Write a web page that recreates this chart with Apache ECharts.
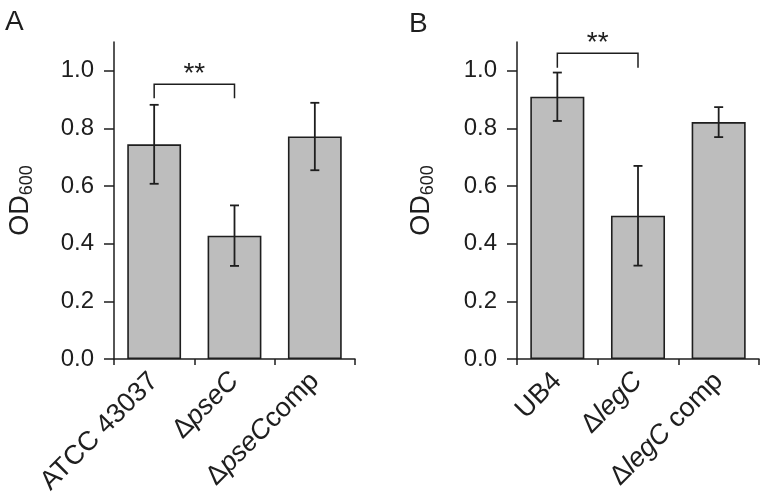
<!DOCTYPE html>
<html>
<head>
<meta charset="utf-8">
<script src="https://cdn.jsdelivr.net/npm/echarts@6/dist/echarts.min.js"></script>
<style>html,body{margin:0;padding:0;background:#fff}#c{width:760px;height:499px}</style>
</head>
<body>
<div id="c"></div>
<script>
// ---- data ----
var categoriesA = ["ATCC 43037", "ΔpseC", "ΔpseCcomp"];
var meansA = [0.745, 0.428, 0.772];
var errorsA = [0.137, 0.105, 0.117];
var categoriesB = ["UB4", "ΔlegC", "ΔlegC comp"];
var meansB = [0.910, 0.497, 0.822];
var errorsB = [0.084, 0.173, 0.052];
var yTicks = [0, 0.2, 0.4, 0.6, 0.8, 1.0];
var yMax = 1.1;
// significance brackets: [fromIndex, toIndex, barValue, endValue, label]
var bracketA = [0, 1, 0.953, 0.905, "**"];
var bracketB = [0, 1, 1.061, 1.011, "**"];
var panelLabels = ["A", "B"];

var FONT = "Liberation Sans, Arial, sans-serif";
var INK = "#1e1e1e";

function fmtCat(v) {
  var s = v.replace(/(pseC|legC)/, "}{i|$1}{n|");
  return "{n|" + s + "}";
}
var catRich = {
  n: { fontFamily: FONT, fontSize: 27, color: INK },
  i: { fontFamily: FONT, fontSize: 27, color: INK, fontStyle: "italic" }
};

function makeX(idx, cats) {
  return {
    type: "category", gridIndex: idx, data: cats,
    axisLine: { lineStyle: { color: INK, width: 1.5 } },
    axisTick: { show: true, length: 6, lineStyle: { color: INK, width: 1.5 } },
    axisLabel: { rotate: 45, margin: 18, formatter: fmtCat, rich: catRich, interval: 0 }
  };
}
function makeY(idx, gap) {
  return {
    type: "value", gridIndex: idx, min: 0, max: yMax,
    splitLine: { show: false },
    axisLine: { show: true, lineStyle: { color: INK, width: 1.5 } },
    axisTick: { show: true, length: 10, lineStyle: { color: INK, width: 1.5 }, customValues: yTicks },
    axisLabel: { customValues: yTicks, margin: 20, fontFamily: FONT, fontSize: 24, color: INK,
      formatter: function (v) { return v.toFixed(1); } },
    name: "{a|OD}{s|600}",
    nameLocation: "middle", nameRotate: 90, nameGap: gap,
    nameTextStyle: {
      rich: {
        a: { fontFamily: FONT, fontSize: 27, color: INK },
        s: { fontFamily: FONT, fontSize: 18, color: INK, padding: [12, 0, 0, 0] }
      }
    }
  };
}

function barSeries(idx, vals) {
  return {
    type: "bar", xAxisIndex: idx, yAxisIndex: idx, data: vals, barWidth: "67%",
    itemStyle: { color: "#bdbdbd", borderColor: INK, borderWidth: 1.6 },
    silent: true
  };
}

function errSeries(idx, means, errs) {
  var d = means.map(function (m, i) { return [i, m, errs[i]]; });
  return {
    type: "custom", xAxisIndex: idx, yAxisIndex: idx, data: d, silent: true, z: 5,
    renderItem: function (params, api) {
      var x = api.value(0), m = api.value(1), e = api.value(2);
      var hi = api.coord([x, m + e]), lo = api.coord([x, m - e]);
      var w = 4.5;
      var st = { stroke: INK, lineWidth: 1.8 };
      return { type: "group", children: [
        { type: "line", shape: { x1: hi[0], y1: hi[1], x2: lo[0], y2: lo[1] }, style: st },
        { type: "line", shape: { x1: hi[0] - w, y1: hi[1], x2: hi[0] + w, y2: hi[1] }, style: st },
        { type: "line", shape: { x1: lo[0] - w, y1: lo[1], x2: lo[0] + w, y2: lo[1] }, style: st }
      ] };
    }
  };
}

function bracketSeries(idx, b) {
  return {
    type: "custom", xAxisIndex: idx, yAxisIndex: idx, data: [b], silent: true, z: 5,
    renderItem: function (params, api) {
      var p1 = api.coord([b[0], b[2]]), p2 = api.coord([b[1], b[2]]);
      var e1 = api.coord([b[0], b[3]]), e2 = api.coord([b[1], b[3]]);
      var st = { stroke: INK, lineWidth: 1.5, fill: null };
      return { type: "group", children: [
        { type: "polyline", shape: { points: [[e1[0], e1[1]], [p1[0], p1[1]], [p2[0], p2[1]], [e2[0], e2[1]]] }, style: st },
        { type: "text", style: { text: b[4], x: (p1[0] + p2[0]) / 2, y: p1[1] - 10,
          textAlign: "center", textVerticalAlign: "middle",
          font: "28px " + FONT, fill: INK } }
      ] };
    }
  };
}

var chart = echarts.init(document.getElementById("c"), null, { renderer: "canvas" });
chart.setOption({
  animation: false,
  backgroundColor: "#fff",
  title: [
    { text: panelLabels[0], left: 0, top: 3, textStyle: { fontFamily: FONT, fontSize: 28, fontWeight: "normal", color: INK } },
    { text: panelLabels[1], left: 404, top: 5, textStyle: { fontFamily: FONT, fontSize: 28, fontWeight: "normal", color: INK } }
  ],
  grid: [
    { left: 114, top: 42, width: 241, height: 317 },
    { left: 517, top: 42, width: 242, height: 317 }
  ],
  xAxis: [makeX(0, categoriesA), makeX(1, categoriesB)],
  yAxis: [makeY(0, 78), makeY(1, 80)],
  series: [
    barSeries(0, meansA), errSeries(0, meansA, errorsA), bracketSeries(0, bracketA),
    barSeries(1, meansB), errSeries(1, meansB, errorsB), bracketSeries(1, bracketB)
  ]
});
</script>
</body>
</html>
